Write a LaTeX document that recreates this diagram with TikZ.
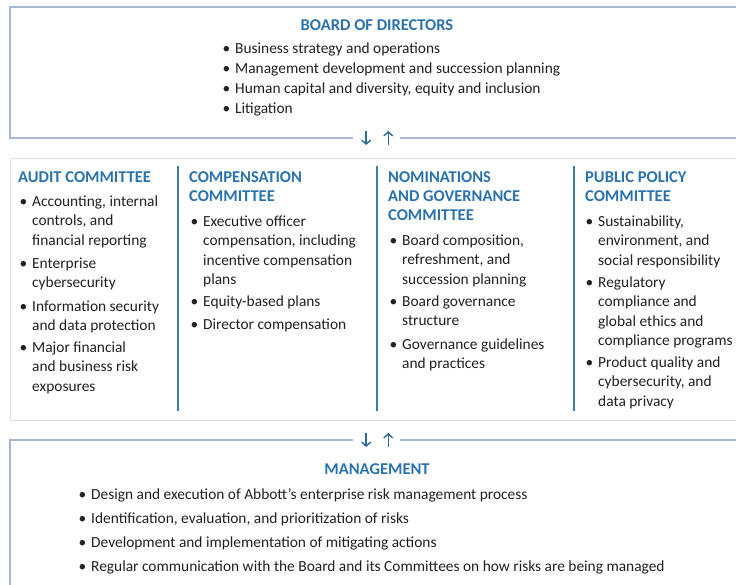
\documentclass[tikz,border=0pt]{standalone}
\usepackage{fontspec}
\setmainfont{Carlito}
\usetikzlibrary{arrows.meta, positioning, calc}
\definecolor{headblue}{HTML}{2A72AE}
\definecolor{rulegray}{HTML}{A6B9D3}
\definecolor{divblue}{HTML}{3F7DB0}
\definecolor{arrowblue}{HTML}{2E6A98}
\definecolor{bandgray}{HTML}{E3E3E3}
\definecolor{bodytext}{HTML}{231F20}
\newcommand{\riskArrow}{{Straight Barb[length=4pt, width=9pt]}}
\newcommand{\bul}{\llap{\textbullet\hspace{5pt}}\rule{0pt}{12pt}}
\newcommand{\hstrut}{\rule{0pt}{13pt}}

\begin{document}
\begin{tikzpicture}[x=1pt, y=-1pt, font=\fontsize{15.4}{19.5}\selectfont,
	title/.style={anchor=base, inner sep=0pt, text=headblue, font=\fontsize{16.5}{19}\selectfont\bfseries},
	head/.style={anchor=north west, yshift=13pt, align=left, inner sep=0pt, text=headblue, font=\fontsize{16.5}{19}\selectfont\bfseries},
	item/.style={anchor=north west, yshift=12pt, align=left, inner sep=0pt, text=bodytext},
	frame/.style={rulegray, line width=1.2pt},
	divider/.style={divblue, line width=1.4pt},
	flow/.style={arrowblue, line width=1.4pt, -\riskArrow}]

	\useasboundingbox (0,0) rectangle (736,584);
	\clip (0,0) rectangle (736,584);

	% board of directors
	\coordinate (BDgapL) at (353,138);
	\coordinate (BDgapR) at (400,138);
	\draw[frame]	(BDgapL) -- (10,138) -- (10,7) -- (745,7);
	\draw[frame]	(BDgapR) -- (745,138);
	\node[title] (board) at (377,30) {BOARD OF DIRECTORS};
	\foreach \y/\txt [count=\i] in {53/Business strategy and operations, 73/Management development and succession planning, 93/{Human capital and diversity, equity and inclusion}, 113/Litigation} {
		\node[item] (bd\i) at (235,\y) {\bul\txt};
	}

	% committees
	\node[draw=bandgray, line width=1pt, anchor=north west, inner sep=0pt, minimum width=740pt, minimum height=262pt] (band) at (10,158) {};
	\foreach \x in {178, 377, 574} {
		\draw[divider]	(\x,166) -- (\x,411);
	}

	\node[head] (audit) at (18,182) {\hstrut AUDIT COMMITTEE};
	\foreach \y/\txt [count=\i] in {206/{Accounting, internal\\controls, and\\financial reporting}, 268/{Enterprise\\cybersecurity}, 311/{Information security\\and data protection}, 352/{Major financial\\and business risk\\exposures}} {
		\node[item] (au\i) at (32,\y) {\bul\txt};
	}

	\node[head] (comp) at (189,182) {\hstrut COMPENSATION\\COMMITTEE};
	\foreach \y/\txt [count=\i] in {226/{Executive officer\\compensation, including\\incentive compensation\\plans}, 306/Equity-based plans, 329/Director compensation} {
		\node[item] (co\i) at (203,\y) {\bul\txt};
	}

	\node[head] (nom) at (388,182) {\hstrut NOMINATIONS\\AND GOVERNANCE\\COMMITTEE};
	\foreach \y/\txt [count=\i] in {245/{Board composition,\\refreshment, and\\succession planning}, 306/{Board governance\\structure}, 349/{Governance guidelines\\and practices}} {
		\node[item] (no\i) at (402,\y) {\bul\txt};
	}

	\node[head] (policy) at (585,182) {\hstrut PUBLIC POLICY\\COMMITTEE};
	\foreach \y/\txt [count=\i] in {226/{Sustainability,\\environment, and\\social responsibility}, 287/{Regulatory\\compliance and\\global ethics and\\compliance programs}, 367/{Product quality and\\cybersecurity, and\\data privacy}} {
		\node[item] (pp\i) at (598,\y) {\bul\txt};
	}

	% management
	\coordinate (MGgapL) at (353,440);
	\coordinate (MGgapR) at (400,440);
	\draw[frame]	(MGgapL) -- (10,440) -- (10,590);
	\draw[frame]	(MGgapR) -- (745,440);
	\node[title] (mgmt) at (377,474) {MANAGEMENT};
	\foreach \y/\txt [count=\i] in {499/Design and execution of Abbott’s enterprise risk management process, 523/{Identification, evaluation, and prioritization of risks}, 547/Development and implementation of mitigating actions, 571/Regular communication with the Board and its Committees on how risks are being managed} {
		\node[item] (mg\i) at (91,\y) {\bul\txt};
	}

	% up and down arrows in the gaps
	\foreach \gap in {BD, MG} {
		\coordinate (\gap dn) at ($(\gap gapL)!0.28!(\gap gapR)$);
		\coordinate (\gap up) at ($(\gap gapL)!0.75!(\gap gapR)$);
		\draw[flow]	([yshift=7pt]\gap dn) -- ([yshift=-7pt]\gap dn);
		\draw[flow]	([yshift=-7pt]\gap up) -- ([yshift=7pt]\gap up);
	}

\end{tikzpicture}
\end{document}
